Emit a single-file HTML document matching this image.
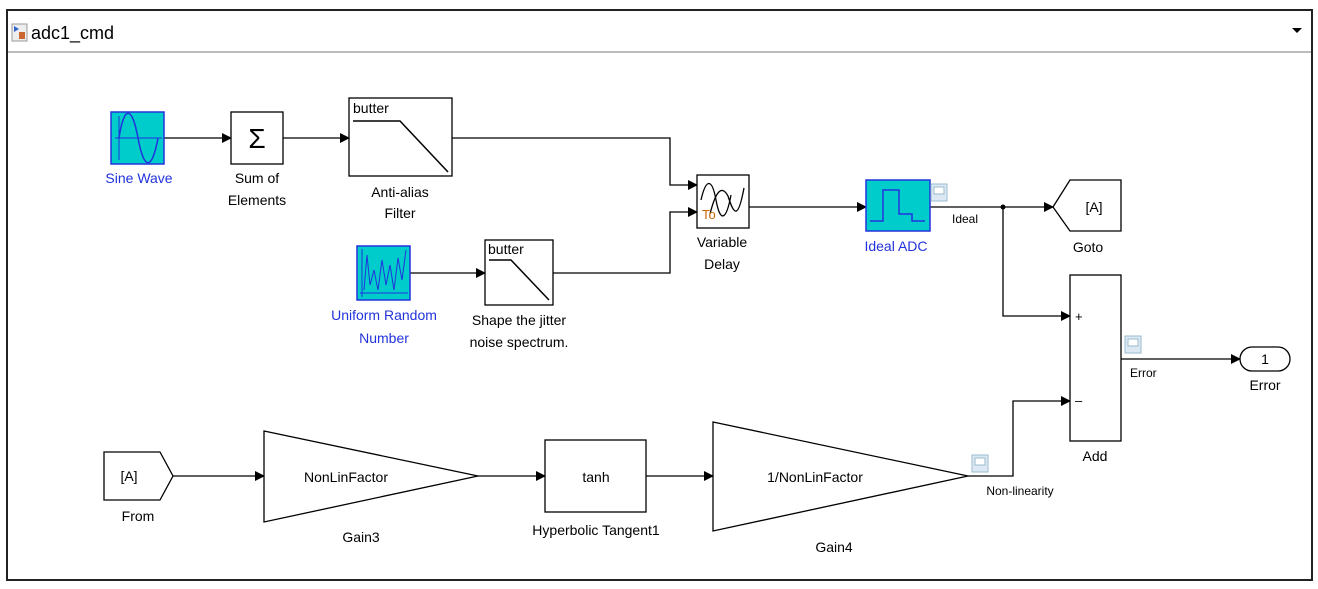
<!DOCTYPE html>
<html><head><meta charset="utf-8"><style>
html,body{margin:0;padding:0;background:#fff;}
svg{display:block;font-family:"Liberation Sans",Arial,sans-serif;}
</style></head><body>
<svg width="1318" height="589" viewBox="0 0 1318 589" xmlns="http://www.w3.org/2000/svg">
<defs>
<marker id="a" markerWidth="10" markerHeight="10" refX="9" refY="5" orient="auto" markerUnits="userSpaceOnUse"><path d="M0,0 L10,5 L0,10 z" fill="#000"/></marker>
</defs>
<rect x="0" y="0" width="1318" height="589" fill="#fff"/>
<rect x="7" y="10" width="1305" height="570" fill="#fff" stroke="#222" stroke-width="2"/>
<line x1="8" y1="52" x2="1311" y2="52" stroke="#bbb" stroke-width="2"/>
<rect x="12" y="24" width="15" height="17" fill="#eee" stroke="#999"/>
<path d="M14,26 L19,29 L14,32z" fill="#36c"/><rect x="19" y="32" width="6" height="7" fill="#c63"/>
<text x="31" y="39" font-size="18" fill="#000">adc1_cmd</text>
<path d="M1292,28 L1302,28 L1297,33z" fill="#000"/>
<g fill="none" stroke="#000" stroke-width="1.3">
<line x1="164" y1="138" x2="231" y2="138" marker-end="url(#a)"/>
<line x1="283" y1="138" x2="349" y2="138" marker-end="url(#a)"/>
<polyline points="452,138 670,138 670,185 697,185" marker-end="url(#a)"/>
<line x1="410" y1="273" x2="485" y2="273" marker-end="url(#a)"/>
<polyline points="553,273 670,273 670,212 697,212" marker-end="url(#a)"/>
<line x1="749" y1="207" x2="866" y2="207" marker-end="url(#a)"/>
<line x1="930" y1="207" x2="1053" y2="207" marker-end="url(#a)"/>
<polyline points="1003,207 1003,316 1070,316" marker-end="url(#a)"/>
<line x1="1121" y1="359" x2="1240" y2="359" marker-end="url(#a)"/>
<line x1="173" y1="476" x2="264" y2="476" marker-end="url(#a)"/>
<line x1="478" y1="476" x2="545" y2="476" marker-end="url(#a)"/>
<line x1="646" y1="476" x2="713" y2="476" marker-end="url(#a)"/>
<polyline points="968,476 1013,476 1013,401 1070,401" marker-end="url(#a)"/>
</g>
<circle cx="1003" cy="207" r="2.5" fill="#000"/>
<!-- Sine wave -->
<rect x="111" y="112" width="53" height="52" fill="#00cccc" stroke="#2233dd" stroke-width="1.5"/>
<line x1="119" y1="116" x2="119" y2="160" stroke="#2233dd"/>
<line x1="115" y1="138" x2="162" y2="138" stroke="#2233dd"/>
<path d="M119,138 C124,105 132,105 138,138 C144,171 152,171 158,138" fill="none" stroke="#2233dd" stroke-width="1.5"/>
<text x="139" y="183" font-size="14" fill="#2233dd" text-anchor="middle">Sine Wave</text>
<!-- Sum -->
<rect x="231" y="112" width="52" height="52" fill="#fff" stroke="#000" stroke-width="1.3"/>
<text x="257" y="148" font-size="28" text-anchor="middle">Σ</text>
<text x="257" y="183" font-size="14" text-anchor="middle">Sum of</text>
<text x="257" y="205" font-size="14" text-anchor="middle">Elements</text>
<!-- Anti-alias -->
<rect x="349" y="98" width="103" height="78" fill="#fff" stroke="#000" stroke-width="1.3"/>
<text x="353" y="113" font-size="14">butter</text>
<polyline points="353,121 400,121 448,172" fill="none" stroke="#000" stroke-width="1.5"/>
<text x="400" y="197" font-size="14" text-anchor="middle">Anti-alias</text>
<text x="400" y="218" font-size="14" text-anchor="middle">Filter</text>
<!-- Uniform random -->
<rect x="357" y="246" width="53" height="54" fill="#00cccc" stroke="#2233dd" stroke-width="1.5"/>
<line x1="362" y1="249" x2="362" y2="297" stroke="#2233dd"/>
<line x1="360" y1="293" x2="408" y2="293" stroke="#2233dd"/>
<polyline points="364,290 367,255 370,285 374,270 378,290 382,260 386,285 390,265 394,290 398,258 402,280 406,250" fill="none" stroke="#2233dd"/>
<text x="384" y="320" font-size="14" fill="#2233dd" text-anchor="middle">Uniform Random</text>
<text x="384" y="343" font-size="14" fill="#2233dd" text-anchor="middle">Number</text>
<!-- Shape filter -->
<rect x="485" y="240" width="68" height="65" fill="#fff" stroke="#000" stroke-width="1.3"/>
<text x="488" y="254" font-size="14">butter</text>
<polyline points="489,260 511,260 549,300" fill="none" stroke="#000" stroke-width="1.5"/>
<text x="519" y="325" font-size="14" text-anchor="middle">Shape the jitter</text>
<text x="519" y="347" font-size="14" text-anchor="middle">noise spectrum.</text>
<!-- Variable delay -->
<rect x="697" y="175" width="52" height="53" fill="#fff" stroke="#000" stroke-width="1.3"/>
<path d="M701,200 C706,178 712,178 716,200 C720,222 726,222 731,195" fill="none" stroke="#000" stroke-width="1.3"/>
<path d="M710,214 C716,190 722,185 728,196 C734,215 738,220 744,188" fill="none" stroke="#000" stroke-width="1.3"/>
<text x="702" y="219" font-size="13" fill="#c60">To</text>
<text x="722" y="247" font-size="14" text-anchor="middle">Variable</text>
<text x="722" y="269" font-size="14" text-anchor="middle">Delay</text>
<!-- Ideal ADC -->
<rect x="866" y="180" width="64" height="51" fill="#00cccc" stroke="#2233dd" stroke-width="1.5"/>
<polyline points="870,221 883,221 883,190 899,190 899,214 912,214 912,221 925,221" fill="none" stroke="#2233dd" stroke-width="1.5"/>
<text x="896" y="251" font-size="14" fill="#2233dd" text-anchor="middle">Ideal ADC</text>
<rect x="931" y="184" width="16" height="17" fill="#dde8f5" stroke="#9bc"/><rect x="934" y="187" width="10" height="7" fill="#fff" stroke="#9bc"/>
<text x="952" y="223" font-size="12">Ideal</text>
<!-- Goto -->
<path d="M1053,207 L1070,180 L1121,180 L1121,231 L1070,231 z" fill="#fff" stroke="#000" stroke-width="1.3"/>
<text x="1094" y="212" font-size="14" text-anchor="middle">[A]</text>
<text x="1088" y="252" font-size="14" text-anchor="middle">Goto</text>
<!-- Add -->
<rect x="1070" y="275" width="51" height="166" fill="#fff" stroke="#000" stroke-width="1.3"/>
<text x="1075" y="321" font-size="13">+</text>
<text x="1075" y="405" font-size="13">–</text>
<text x="1095" y="461" font-size="14" text-anchor="middle">Add</text>
<rect x="1125" y="336" width="16" height="17" fill="#dde8f5" stroke="#9bc"/><rect x="1128" y="339" width="10" height="7" fill="#fff" stroke="#9bc"/>
<text x="1130" y="377" font-size="12">Error</text>
<!-- Outport -->
<rect x="1240" y="347" width="50" height="24" rx="12" fill="#fff" stroke="#000" stroke-width="1.3"/>
<text x="1265" y="364" font-size="14" text-anchor="middle">1</text>
<text x="1265" y="390" font-size="14" text-anchor="middle">Error</text>
<!-- From -->
<path d="M104,452 L160,452 L173,476 L160,500 L104,500 z" fill="#fff" stroke="#000" stroke-width="1.3"/>
<text x="129" y="481" font-size="14" text-anchor="middle">[A]</text>
<text x="138" y="521" font-size="14" text-anchor="middle">From</text>
<!-- Gain3 -->
<path d="M264,431 L478,476 L264,522 z" fill="#fff" stroke="#000" stroke-width="1.3"/>
<text x="346" y="482" font-size="14" text-anchor="middle">NonLinFactor</text>
<text x="361" y="542" font-size="14" text-anchor="middle">Gain3</text>
<!-- tanh -->
<rect x="545" y="440" width="101" height="72" fill="#fff" stroke="#000" stroke-width="1.3"/>
<text x="596" y="482" font-size="14" text-anchor="middle">tanh</text>
<text x="596" y="535" font-size="14" text-anchor="middle">Hyperbolic Tangent1</text>
<!-- Gain4 -->
<path d="M713,422 L968,476 L713,531 z" fill="#fff" stroke="#000" stroke-width="1.3"/>
<text x="815" y="482" font-size="14" text-anchor="middle">1/NonLinFactor</text>
<text x="834" y="552" font-size="14" text-anchor="middle">Gain4</text>
<rect x="972" y="455" width="16" height="17" fill="#dde8f5" stroke="#9bc"/><rect x="975" y="458" width="10" height="7" fill="#fff" stroke="#9bc"/>
<text x="1020" y="495" font-size="12" text-anchor="middle">Non-linearity</text>
</svg>
</body></html>
